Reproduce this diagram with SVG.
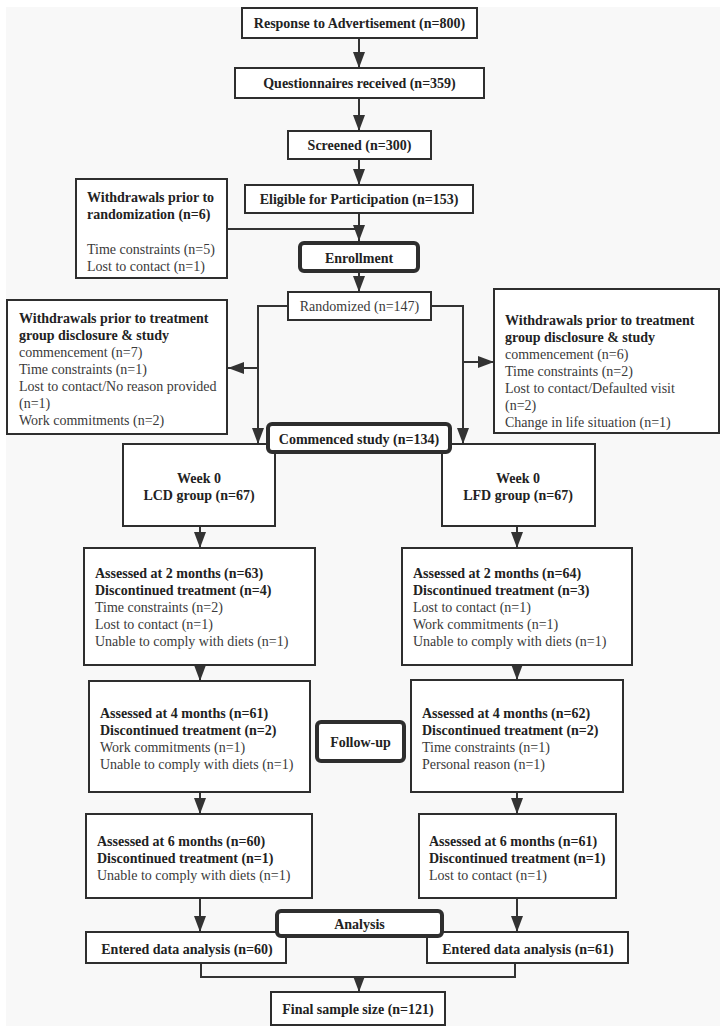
<svg xmlns="http://www.w3.org/2000/svg" width="727" height="1034" viewBox="0 0 727 1034">
<defs>
<style>
.box{fill:#fff;stroke:#2e2e2e;stroke-width:2}
.tbox{fill:#fff;stroke:#2e2e2e;stroke-width:4}
.ln{fill:none;stroke:#333;stroke-width:2}
text{font-family:"Liberation Serif","Times New Roman",serif;font-size:14px;fill:#3a3a3a}
.b{font-weight:bold;fill:#222}
.c{text-anchor:middle}
</style>
<marker id="ah" markerUnits="userSpaceOnUse" markerWidth="16" markerHeight="12" refX="16" refY="6" orient="auto">
<path d="M0,0 L16,6 L0,12 z" fill="#333"/>
</marker>
</defs>
<rect x="0" y="0" width="727" height="1034" fill="#fff"/>
<rect x="6" y="7" width="714" height="1019" fill="#f8f8f8"/>

<g id="connectors">
<line class="ln" x1="359" y1="38" x2="359" y2="68" marker-end="url(#ah)"/>
<line class="ln" x1="359" y1="98" x2="359" y2="131" marker-end="url(#ah)"/>
<line class="ln" x1="359" y1="159" x2="359" y2="185" marker-end="url(#ah)"/>
<line class="ln" x1="359" y1="213" x2="359" y2="241" marker-end="url(#ah)"/>
<line class="ln" x1="227" y1="229" x2="359" y2="229"/>
<line class="ln" x1="359" y1="272" x2="359" y2="292" marker-end="url(#ah)"/>
<path class="ln" d="M288,306 H258 V444" marker-end="url(#ah)"/>
<line class="ln" x1="258" y1="368" x2="228" y2="368" marker-end="url(#ah)"/>
<path class="ln" d="M431,306 H463 V444" marker-end="url(#ah)"/>
<line class="ln" x1="463" y1="362" x2="494" y2="362" marker-end="url(#ah)"/>
<line class="ln" x1="200" y1="526" x2="200" y2="548" marker-end="url(#ah)"/>
<line class="ln" x1="517" y1="526" x2="517" y2="548" marker-end="url(#ah)"/>
<line class="ln" x1="200" y1="665" x2="200" y2="681" marker-end="url(#ah)"/>
<line class="ln" x1="517" y1="665" x2="517" y2="680" marker-end="url(#ah)"/>
<line class="ln" x1="200" y1="792" x2="200" y2="814" marker-end="url(#ah)"/>
<line class="ln" x1="517" y1="792" x2="517" y2="814" marker-end="url(#ah)"/>
<line class="ln" x1="200" y1="898" x2="200" y2="932" marker-end="url(#ah)"/>
<line class="ln" x1="517" y1="898" x2="517" y2="932" marker-end="url(#ah)"/>
<path class="ln" d="M201,963 V977 H515 V963"/>
<line class="ln" x1="359" y1="977" x2="359" y2="992" marker-end="url(#ah)"/>
</g>

<g id="response">
<rect class="box" x="242" y="8" width="235" height="30"/>
<text class="b c" x="359.5" y="28">Response to Advertisement (n=800)</text>
</g>
<g id="questionnaires">
<rect class="box" x="235" y="68" width="249" height="30"/>
<text class="b c" x="359.5" y="88">Questionnaires received (n=359)</text>
</g>
<g id="screened">
<rect class="box" x="288" y="131" width="143" height="28"/>
<text class="b c" x="359.5" y="150">Screened (n=300)</text>
</g>
<g id="eligible">
<rect class="box" x="245" y="185" width="228" height="28"/>
<text class="b c" x="359" y="204">Eligible for Participation (n=153)</text>
</g>
<g id="withdraw-rand">
<rect class="box" x="76" y="179" width="151" height="99"/>
<text class="b" x="87" y="202">Withdrawals prior to</text>
<text class="b" x="87" y="219">randomization (n=6)</text>
<text x="87" y="254">Time constraints (n=5)</text>
<text x="87" y="271">Lost to contact (n=1)</text>
</g>
<g id="enrollment">
<rect class="tbox" x="300" y="243" width="118" height="28" rx="4"/>
<text class="b c" x="359" y="263">Enrollment</text>
</g>
<g id="randomized">
<rect class="box" x="288" y="292" width="143" height="28"/>
<text class="c" x="359.5" y="311">Randomized (n=147)</text>
</g>
<g id="withdraw-left">
<rect class="box" x="7" y="300" width="220" height="134"/>
<text class="b" x="19" y="323">Withdrawals prior to treatment</text>
<text class="b" x="19" y="340">group disclosure &amp; study</text>
<text x="19" y="357">commencement (n=7)</text>
<text x="19" y="374">Time constraints (n=1)</text>
<text x="19" y="391">Lost to contact/No reason provided</text>
<text x="19" y="408">(n=1)</text>
<text x="19" y="425">Work commitments (n=2)</text>
</g>
<g id="withdraw-right">
<rect class="box" x="494" y="289" width="225" height="144"/>
<text class="b" x="505" y="325">Withdrawals prior to treatment</text>
<text class="b" x="505" y="342">group disclosure &amp; study</text>
<text x="505" y="359">commencement (n=6)</text>
<text x="505" y="376">Time constraints (n=2)</text>
<text x="505" y="393">Lost to contact/Defaulted visit</text>
<text x="505" y="410">(n=2)</text>
<text x="505" y="427">Change in life situation (n=1)</text>
</g>
<g id="week0-lcd">
<rect class="box" x="123" y="444" width="152" height="82"/>
<text class="b c" x="199" y="483">Week 0</text>
<text class="b c" x="199" y="500">LCD group (n=67)</text>
</g>
<g id="week0-lfd">
<rect class="box" x="442" y="444" width="153" height="82"/>
<text class="b c" x="518" y="483">Week 0</text>
<text class="b c" x="518" y="500">LFD group (n=67)</text>
</g>
<g id="commenced">
<rect class="tbox" x="268" y="424" width="182" height="28" rx="4"/>
<text class="b c" x="359" y="444">Commenced study (n=134)</text>
</g>
<g id="m2-lcd">
<rect class="box" x="84" y="548" width="231" height="117"/>
<text class="b" x="95" y="578">Assessed at 2 months (n=63)</text>
<text class="b" x="95" y="595">Discontinued treatment (n=4)</text>
<text x="95" y="612">Time constraints (n=2)</text>
<text x="95" y="629">Lost to contact (n=1)</text>
<text x="95" y="646">Unable to comply with diets (n=1)</text>
</g>
<g id="m2-lfd">
<rect class="box" x="402" y="548" width="230" height="117"/>
<text class="b" x="413" y="578">Assessed at 2 months (n=64)</text>
<text class="b" x="413" y="595">Discontinued treatment (n=3)</text>
<text x="413" y="612">Lost to contact (n=1)</text>
<text x="413" y="629">Work commitments (n=1)</text>
<text x="413" y="646">Unable to comply with diets (n=1)</text>
</g>
<g id="m4-lcd">
<rect class="box" x="89" y="681" width="221" height="111"/>
<text class="b" x="100" y="718">Assessed at 4 months (n=61)</text>
<text class="b" x="100" y="735">Discontinued treatment (n=2)</text>
<text x="100" y="752">Work commitments (n=1)</text>
<text x="100" y="769">Unable to comply with diets (n=1)</text>
</g>
<g id="followup">
<rect class="tbox" x="317" y="722" width="87" height="39" rx="4"/>
<text class="b c" x="360.5" y="747">Follow-up</text>
</g>
<g id="m4-lfd">
<rect class="box" x="411" y="680" width="212" height="112"/>
<text class="b" x="422" y="718">Assessed at 4 months (n=62)</text>
<text class="b" x="422" y="735">Discontinued treatment (n=2)</text>
<text x="422" y="752">Time constraints (n=1)</text>
<text x="422" y="769">Personal reason (n=1)</text>
</g>
<g id="m6-lcd">
<rect class="box" x="86" y="814" width="226" height="84"/>
<text class="b" x="97" y="846">Assessed at 6 months (n=60)</text>
<text class="b" x="97" y="863">Discontinued treatment (n=1)</text>
<text x="97" y="880">Unable to comply with diets (n=1)</text>
</g>
<g id="m6-lfd">
<rect class="box" x="419" y="814" width="197" height="84"/>
<text class="b" x="429" y="846">Assessed at 6 months (n=61)</text>
<text class="b" x="429" y="863">Discontinued treatment (n=1)</text>
<text x="429" y="880">Lost to contact (n=1)</text>
</g>
<g id="entered-lcd">
<rect class="box" x="86" y="932" width="200" height="31"/>
<text class="b c" x="187" y="954">Entered data analysis (n=60)</text>
</g>
<g id="entered-lfd">
<rect class="box" x="427" y="932" width="201" height="31"/>
<text class="b c" x="528" y="954">Entered data analysis (n=61)</text>
</g>
<g id="analysis">
<rect class="tbox" x="277" y="911" width="165" height="25" rx="4"/>
<text class="b c" x="359.5" y="929">Analysis</text>
</g>
<g id="final">
<rect class="box" x="271" y="992" width="174" height="33"/>
<text class="b c" x="358" y="1014">Final sample size (n=121)</text>
</g>
</svg>
